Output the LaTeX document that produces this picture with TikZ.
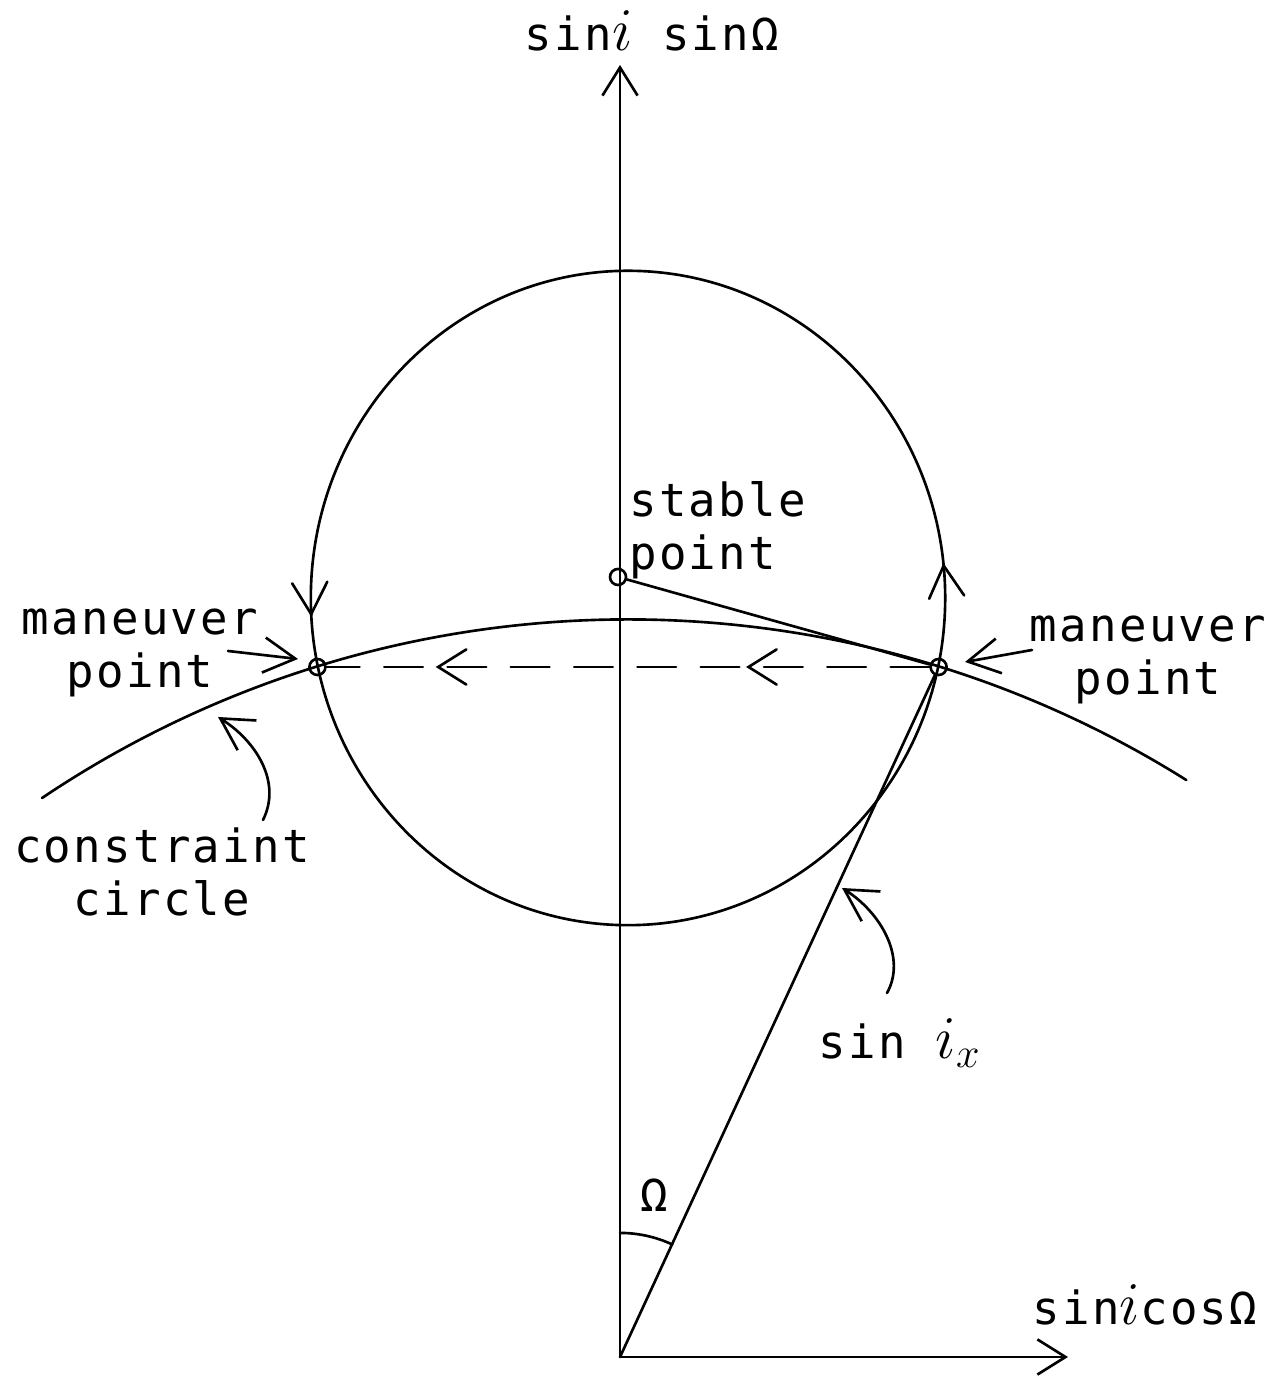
\documentclass[tikz,border=0pt]{standalone}
\usepackage{fontspec}
\setmainfont[LetterSpace=5]{DejaVu Sans Mono}
\usetikzlibrary{arrows.meta,decorations.markings}
\newcommand{\incl}{{\fontsize{18}{15}\selectfont$i$}}
\newcommand{\inclx}{{\fontsize{18}{15}\selectfont$i_x$}}
\begin{document}
\begin{tikzpicture}[x=0.01cm,y=0.01cm, line width=0.75pt, line cap=round,
  lbl/.style={font=\fontsize{13}{15}\selectfont, align=center, inner sep=0pt},
  axisarrow/.style={-{Straight Barb[length=8pt,width=10pt]}},
  ptr/.style={-{Straight Barb[length=9pt,width=10pt]}},
  pt/.style={circle, draw, inner sep=0pt, minimum size=0.16cm},
  ]
\useasboundingbox (0,0) rectangle (1282,1377);

% axes
\coordinate (O) at (620,20);
\coordinate (ytip) at (620,1312);
\coordinate (xtip) at (1068,20);
\draw[axisarrow] (O) -- (ytip);
\draw[axisarrow] (O) -- (xtip);
\node[lbl] (ylab) at (652,1346) {sin\incl{} sinΩ};
\node[lbl] (xlab) at (1145,72) {sin\incl{}cosΩ};

% circle of motion with direction marks
\coordinate (C) at (628,779);
\draw[decoration={markings,
   mark=at position 0.016 with {\draw (-9pt,5pt) -- (0,0) -- (-9pt,-5pt);},
   mark=at position 0.508 with {\draw (-9pt,5pt) -- (0,0) -- (-9pt,-5pt);}},
   postaction={decorate}]
  (C) ellipse [x radius=3.17cm, y radius=3.27cm];

% constraint circle arc
\coordinate (K) at (628,-293);
\draw ([shift={(123.9:10.5cm)}]K) arc[start angle=123.9, end angle=57.9, radius=10.5cm];

% points
\node[pt] (S) at (618,800) {};
\node[pt] (L) at (317.4,710) {};
\node[pt] (R) at (938.6,710) {};

\draw (S) -- (R);
\draw (O) -- (R);
\draw[dashed, dash pattern=on 11pt off 7pt,
  decoration={markings,
    mark=at position 0.30 with {\draw[solid] (-8pt,5pt) -- (0,0) -- (-8pt,-5pt);},
    mark=at position 0.815 with {\draw[solid] (-8pt,5pt) -- (0,0) -- (-8pt,-5pt);}},
  postaction={decorate}] (R) -- (L);

% angle Omega
\draw ([shift={(90:1.24cm)}]O) arc[start angle=90, end angle=65.1, radius=1.24cm];
\node[lbl] (om) at (654,182) {Ω};

% labels
\node[lbl, align=left, anchor=west] (slab) at (628,847) {stable\\point};
\node[lbl] (mlL) at (140,724) {maneuver\\point};
\node[lbl] (mlR) at (1148,717) {maneuver\\point};
\node[lbl] (cc) at (162,505) {constraint\\circle};
\node[lbl] (six) at (900,334) {sin \inclx};

% pointers
\coordinate (pL0) at (228,726); \coordinate (pL1) at (298,718);
\draw[ptr] (pL0) -- (pL1);
\coordinate (pR0) at (1032,727); \coordinate (pR1) at (965,715);
\draw[ptr] (pR0) -- (pR1);
\coordinate (cc0) at (263,557); \coordinate (cc1) at (218,660);
\draw[ptr] (cc0) .. controls (282,595) and (256,636) .. (cc1);
\coordinate (si0) at (887,384); \coordinate (si1) at (842,489);
\draw[ptr] (si0) .. controls (907,420) and (880,465) .. (si1);
\end{tikzpicture}
\end{document}
